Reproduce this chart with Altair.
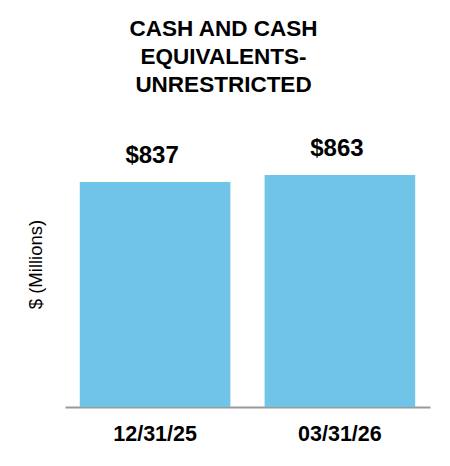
import altair as alt
import pandas as pd

categories = ["12/31/25", "03/31/26"]
values = [837, 863]
labels = ["$837", "$863"]

df = pd.DataFrame({"date": categories, "value": values, "label": labels})

FONT = "Liberation Sans"
BAR_COLOR = "#70C4E8"

x = alt.X(
    "date:N",
    sort=categories,
    scale=alt.Scale(paddingInner=0.185, paddingOuter=0.08),
    axis=alt.Axis(
        title=None,
        labelAngle=0,
        labelFont=FONT,
        labelFontSize=21.5,
        labelFontWeight="bold",
        labelColor="#000000",
        labelPadding=16,
        ticks=False,
        domain=True,
        domainColor="#9A9A9A",
        domainWidth=2,
        grid=False,
    ),
)

y = alt.Y(
    "value:Q",
    scale=alt.Scale(domain=[0, 1064], nice=False, zero=True),
    axis=alt.Axis(
        title="$ (Millions)",
        titleFont=FONT,
        titleFontSize=18.5,
        titleFontWeight="normal",
        titleColor="#000000",
        titlePadding=20,
        labels=False,
        ticks=False,
        domain=False,
        grid=False,
    ),
)

bars = alt.Chart(df).mark_bar(color=BAR_COLOR).encode(x=x, y=y)

text = alt.Chart(df).mark_text(
    font=FONT,
    fontSize=24,
    fontWeight="bold",
    color="#000000",
    baseline="alphabetic",
    dy=-19,
    dx=-3,
).encode(x=alt.X("date:N", sort=categories), y=alt.Y("value:Q"), text="label:N")

chart = (
    alt.layer(bars, text)
    .properties(
        width=365,
        height=286,
        padding={"left": 57, "top": 113, "right": 10, "bottom": 40},
        autosize=alt.AutoSizeParams(type="none"),
        title=alt.TitleParams(
            text=["CASH AND CASH", "EQUIVALENTS-", "UNRESTRICTED"],
            font=FONT,
            fontSize=22.5,
            fontWeight="bold",
            color="#000000",
            anchor="middle",
            baseline="bottom",
            lineHeight=28,
            offset=2,
            dx=-24,
        ),
    )
    .configure_view(stroke=None)
)

chart.save("out.html", embed_options={"renderer": "svg", "actions": False})
